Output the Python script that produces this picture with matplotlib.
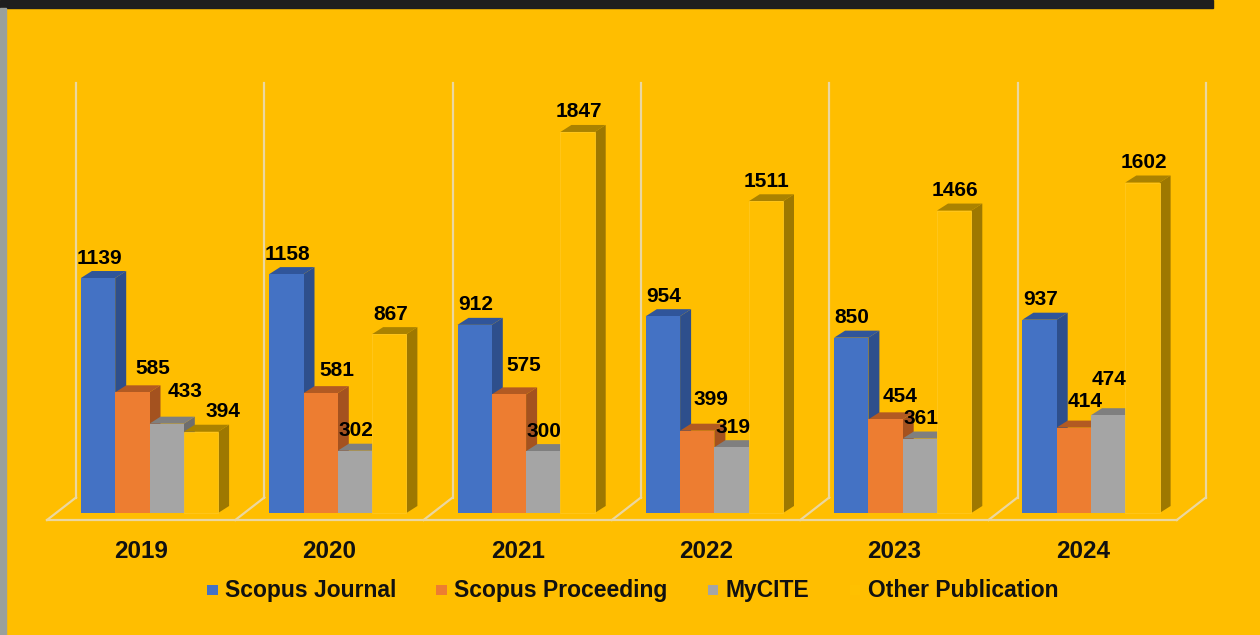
#!/usr/bin/env python3
"""Publications per year: 3D-look clustered columns on a yellow slide."""
import matplotlib
matplotlib.use('Agg')
import matplotlib.pyplot as plt
from matplotlib.patches import Polygon, Rectangle

# --- data ---
years = ['2019', '2020', '2021', '2022', '2023', '2024']
series = ['Scopus Journal', 'Scopus Proceeding', 'MyCITE', 'Other Publication']
scopus_journal = [1139, 1158, 912, 954, 850, 937]
scopus_proceeding = [585, 581, 575, 399, 454, 414]
mycite = [433, 302, 300, 319, 361, 474]
other_pub = [394, 867, 1847, 1511, 1466, 1602]
values = [scopus_journal, scopus_proceeding, mycite, other_pub]

# --- style ---
bg = '#FFBE00'
front_c = ['#4472C4', '#ED7D31', '#A5A5A5', '#FFBF02']
side_c = ['#2E4F8C', '#A4521F', '#6E6E6E', '#9E7800']
top_c = ['#30559A', '#B25A22', '#7F7F7F', '#AA8200']
legend_c = ['#4472C4', '#ED7D31', '#A5A5A5', '#FFC000']
grid_c = '#EBD7A0'
font = 'Liberation Sans'

# label nudges in pixels (series, group) -> (dx, dy), Excel moved these
nudge = {(1, 0): (20, 4), (1, 1): (16, 3), (1, 2): (15, 9), (1, 3): (14, 11),
         (1, 4): (15, 3), (1, 5): (11, 6), (2, 0): (18, 12), (2, 5): (1, 16),
         (3, 0): (22, 0)}

W, H = 1260, 635
GPX = 188.3            # pixels per category
VPX = 0.2063           # pixels per unit
x0_px = 47 + GPX / 2   # front centre of first category
y0_px = 513            # column base, px from top


def du(px):
    return px / GPX


def dv(px):
    return px / VPX


fig = plt.figure(figsize=(W / 100, H / 100), dpi=100)
fig.patch.set_facecolor(bg)
ax = fig.add_axes([0, 0, 1, 1])
ax.set_xlim(-x0_px / GPX, (W - x0_px) / GPX)
ax.set_ylim(-(H - y0_px) / VPX, y0_px / VPX)
ax.axis('off')

# --- floor and wall gridlines ---
vf, vb, vtop = dv(-7), dv(15.5), dv(513 - 83)
n = len(years)
ax.plot([-0.5, n - 0.5], [vf, vf], color=grid_c, lw=1.6, zorder=1)
for k in range(n + 1):
    b = k - 0.5
    ax.plot([b, b + du(29)], [vf, vb], color=grid_c, lw=1.6, zorder=1)
    ax.plot([b + du(29)] * 2, [vb, vtop], color=grid_c, lw=1.6, zorder=1)

# --- columns ---
bw = du(34.3)
shift = du(8.35)
ddx, ddy = du(11), dv(7)
for j, vals in enumerate(values):
    xs = [i + shift + (j - 1.5) * bw for i in range(n)]
    z = 3 + 3 * j
    for i, (xc, h) in enumerate(zip(xs, vals)):
        xl, xr = xc - bw / 2, xc + bw / 2
        ax.add_patch(Polygon([(xr, 0), (xr + ddx, ddy), (xr + ddx, h + ddy), (xr, h)],
                             closed=True, fc=side_c[j], ec='none', zorder=z))
        ax.add_patch(Polygon([(xl, h), (xr, h), (xr + ddx, h + ddy), (xl + ddx, h + ddy)],
                             closed=True, fc=top_c[j], ec='none', zorder=z + 1))
        dx, dy = nudge.get((j, i), (1, 0))
        ax.annotate(str(h), (xc, h), xytext=(dx, 20 + dy), textcoords='offset pixels',
                    ha='center', va='center', fontsize=15, fontweight='bold',
                    family=font, color='black', zorder=20)
    ax.bar(xs, vals, bw, color=front_c[j], zorder=z + 2,
           edgecolor='#FFC71F' if j == 3 else 'none', linewidth=0.6 if j == 3 else 0)

# --- category labels ---
for i, y in enumerate(years):
    ax.text(i, dv(-38), y, ha='center', va='center', fontsize=17.5,
            fontweight='bold', family=font, color='#111111')

# --- legend (drawn by hand so all labels share one baseline) ---
renderer = fig.canvas.get_renderer()
x = 207
for name, c in zip(series, legend_c):
    fig.add_artist(Rectangle((x / W, 1 - 595 / H), 10.5 / W, 10.5 / H,
                             transform=fig.transFigure, fc=c, ec='none'))
    t = fig.text((x + 18) / W, 1 - 597 / H, name, ha='left', va='baseline',
                 fontsize=16.5, fontweight='bold', family=font, color='#111111')
    x += 18 + t.get_window_extent(renderer).width + 40

# --- slide edges ---
fig.add_artist(Rectangle((0, 1 - 8 / H), 1213 / W, 8 / H, transform=fig.transFigure,
                         color='#1E1E1E', zorder=30))
fig.add_artist(Rectangle((0, 0), 6 / W, 1 - 8 / H, transform=fig.transFigure,
                         color='#9AA09C', zorder=30))

fig.savefig('out.png', dpi=100, facecolor=bg)
